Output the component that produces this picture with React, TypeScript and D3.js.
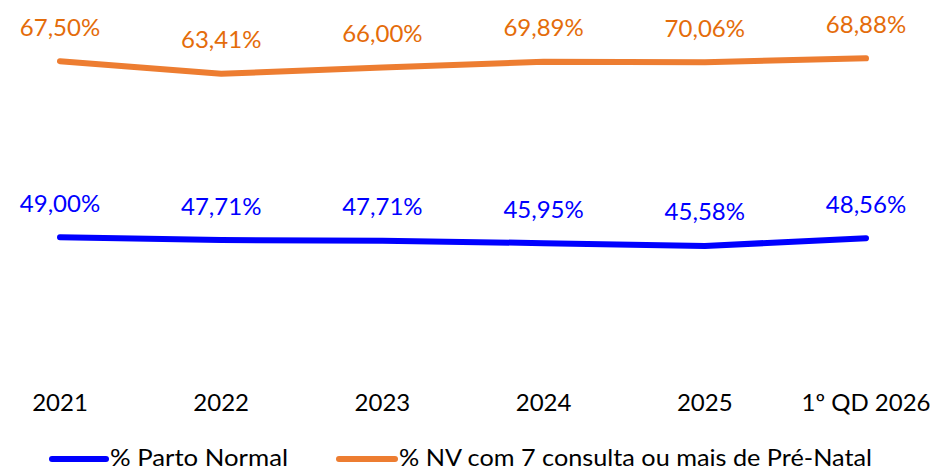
import { scaleLinear, scalePoint, line, curveLinear, formatLocale } from "d3";

// categories on the x axis
const categories = ["2021", "2022", "2023", "2024", "2025", "1º QD 2026"];

// values shown in the data labels
const partoNormal = [49.0, 47.71, 47.71, 45.95, 45.58, 48.56];
const preNatal = [67.5, 63.41, 66.0, 69.89, 70.06, 68.88];

// heights of the drawn lines (the source chart does not
// plot the labelled values on one common axis)
const partoNormalLine = [40.8, 40.0, 39.8, 39.1, 38.3, 40.5];
const preNatalLine = [91.1, 87.5, 89.3, 90.9, 90.8, 91.9];

const legendNames = ["% Parto Normal", "% NV com 7 consulta ou mais de Pré-Natal"];

const W = 936;
const H = 471;
const FONT = "Lato, Carlito, Calibri, sans-serif";
const fmt = formatLocale({ decimal: ",", thousands: ".", grouping: [3], currency: ["", ""] }).format(".2f");

export default function App() {
  const x = scalePoint<string>().domain(categories).range([60, 866]);
  const y = scaleLinear().domain([0, 100]).range([380, 30]);

  const series = [
    { name: legendNames[0], labels: partoNormal, pos: partoNormalLine, stroke: "#0000FF", text: "#0000FF" },
    { name: legendNames[1], labels: preNatal, pos: preNatalLine, stroke: "#ED7D31", text: "#E46C0A" },
  ];

  const path = line<number>()
    .x((_, i) => x(categories[i]) as number)
    .y((d) => y(d))
    .curve(curveLinear);

  // legend swatch / text placement
  const legend = [
    { x1: 52, x2: 106, tx: 110, w: 178 },
    { x1: 339, x2: 395, tx: 399, w: 473 },
  ];

  return (
    <div style={{ position: "fixed", left: 0, top: 0 }}>
      <svg width={W} height={H} style={{ display: "block", background: "#fff" }}>
        {series.map((s) => (
          <g key={s.name}>
            <path
              d={path(s.pos) || ""}
              fill="none"
              stroke={s.stroke}
              strokeWidth={6}
              strokeLinecap="round"
              strokeLinejoin="round"
            />
            {s.pos.map((p, i) => (
              <text
                key={i}
                x={x(categories[i])}
                y={y(p) - 25.5}
                textAnchor="middle"
                fontFamily={FONT}
                fontSize={24}
                fill={s.text}
              >
                {fmt(s.labels[i])}%
              </text>
            ))}
          </g>
        ))}

        {categories.map((c) => (
          <text
            key={c}
            x={x(c)}
            y={410.5}
            textAnchor="middle"
            fontFamily={FONT}
            fontSize={24}
            fill="#000"
          >
            {c}
          </text>
        ))}

        {series.map((s, i) => (
          <g key={"lg" + s.name}>
            <line
              x1={legend[i].x1}
              x2={legend[i].x2}
              y1={459}
              y2={459}
              stroke={s.stroke}
              strokeWidth={6}
              strokeLinecap="round"
            />
            <text
              x={legend[i].tx}
              y={466}
              fontFamily={FONT}
              fontSize={24}
              fill="#000"
              textLength={legend[i].w}
              lengthAdjust="spacingAndGlyphs"
            >
              {s.name}
            </text>
          </g>
        ))}
      </svg>
    </div>
  );
}
